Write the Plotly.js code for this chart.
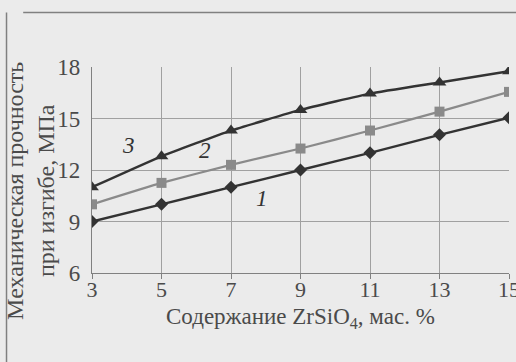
<!DOCTYPE html>
<html><head><meta charset="utf-8">
<script src="https://cdn.plot.ly/plotly-3.0.1.min.js"></script>
<style>html,body{margin:0;padding:0;background:#ebebeb;}#chart{width:516px;height:362px;}</style>
</head><body><div id="chart"></div>
<script>
var zrsio4 = [3, 5, 7, 9, 11, 13, 15];
var curve1 = [9.0, 10.0, 11.0, 12.0, 13.0, 14.05, 15.05];
var curve2 = [10.0, 11.25, 12.3, 13.25, 14.3, 15.4, 16.55];
var curve3 = [11.0, 12.8, 14.3, 15.5, 16.45, 17.1, 17.75];
var curveLabels = ["1", "2", "3"];
var labelX = [7.9, 6.25, 4.05];
var labelY = [10.35, 13.15, 13.45];
var xTicks = [3, 5, 7, 9, 11, 13, 15];
var yTicks = [6, 9, 12, 15, 18];
var xTitle = "Содержание ZrSiO<sub>4</sub>, мас. %";
var yTitle = "Механическая прочность<br>при изгибе, МПа";

var serif = "Liberation Serif, Times New Roman, serif";
var txt = "#4a4a4a";
var traces = [
  {x: zrsio4, y: curve1, mode: "lines+markers", line: {color: "#333", width: 2.4, shape: "spline", smoothing: 0.4},
   marker: {symbol: "diamond", size: 10, color: "#333"}},
  {x: zrsio4, y: curve2, mode: "lines+markers", line: {color: "#8a8a8a", width: 2.2, shape: "spline", smoothing: 0.4},
   marker: {symbol: "square", size: 10, color: "#8a8a8a"}},
  {x: zrsio4, y: curve3, mode: "lines+markers", line: {color: "#333", width: 2.4, shape: "spline", smoothing: 0.4},
   marker: {symbol: "triangle-up", size: 12, color: "#333"}}
];
var annotations = curveLabels.map(function (t, i) {
  return {x: labelX[i], y: labelY[i], xref: "x", yref: "y", text: "<i>" + t + "</i>", showarrow: false,
    font: {family: serif, size: 23, color: "#333"}};
});
annotations.push({xref: "paper", yref: "paper", x: 0.501, y: -0.22, xanchor: "center", yanchor: "middle",
  text: xTitle, showarrow: false, font: {family: serif, size: 23, color: txt}});
annotations.push({xref: "paper", yref: "paper", x: -0.148, y: 0.40, xanchor: "center", yanchor: "middle",
  text: yTitle, textangle: -90, showarrow: false, font: {family: serif, size: 24, color: txt}});
var layout = {
  width: 516, height: 362,
  margin: {l: 92, r: 7, t: 67, b: 89},
  paper_bgcolor: "#ebebeb", plot_bgcolor: "#ebebeb",
  showlegend: false,
  font: {family: serif, size: 22, color: txt},
  xaxis: {range: [3, 15], tickvals: xTicks, showgrid: true, gridcolor: "#a0a0a0", gridwidth: 1,
    showline: true, linecolor: "#808080", linewidth: 1.2, ticks: "outside", ticklen: 5, tickcolor: "#808080",
    ticklabeloverflow: "allow", ticklabelstandoff: -9,
    zeroline: false, tickfont: {family: serif, size: 22, color: txt}},
  yaxis: {range: [6, 18], tickvals: yTicks, showgrid: true, gridcolor: "#a0a0a0", gridwidth: 1,
    showline: true, linecolor: "#808080", linewidth: 1.2, ticks: "", zeroline: false, ticklabelstandoff: 6,
    tickfont: {family: serif, size: 23, color: txt}},
  annotations: annotations,
  shapes: [
    {type: "line", xref: "paper", yref: "paper", x0: -0.165, x1: 1.02, y0: 1.265, y1: 1.265, line: {color: "#808080", width: 1.5}},
    {type: "line", xref: "paper", yref: "paper", x0: -0.205, x1: -0.205, y0: 1.265, y1: -0.45, line: {color: "#808080", width: 1.5}}
  ]
};
Plotly.newPlot("chart", traces, layout, {displayModeBar: false, staticPlot: true});
</script></body></html>
